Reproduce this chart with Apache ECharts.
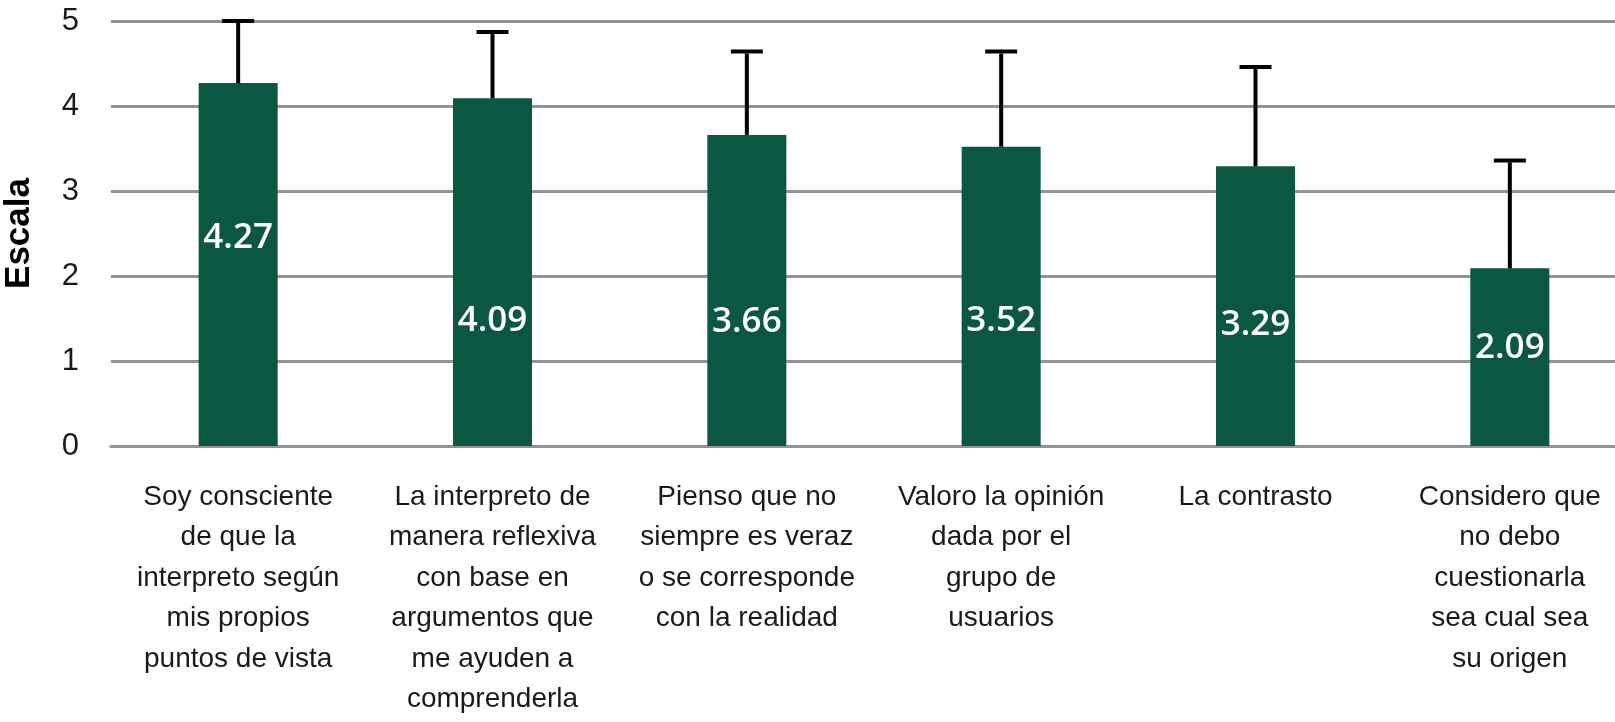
<!DOCTYPE html>
<html>
<head>
<meta charset="utf-8">
<script src="https://cdn.jsdelivr.net/npm/echarts@6/dist/echarts.min.js"></script>
<style>
html,body{margin:0;padding:0;background:#fff;}
#chart{width:1615px;height:722px;}
</style>
</head>
<body>
<div id="chart"></div>
<script>
// ---- data ----
const categories = [
  "Soy consciente\nde que la\ninterpreto según\nmis propios\npuntos de vista",
  "La interpreto de\nmanera reflexiva\ncon base en\nargumentos que\nme ayuden a\ncomprenderla",
  "Pienso que no\nsiempre es veraz\no se corresponde\ncon la realidad",
  "Valoro la opinión\ndada por el\ngrupo de\nusuarios",
  "La contrasto",
  "Considero que\nno debo\ncuestionarla\nsea cual sea\nsu origen"
];
const means = [4.27, 4.09, 3.66, 3.52, 3.29, 2.09];
const errorsUp = [0.73, 0.78, 0.98, 1.12, 1.17, 1.27];
const yTicks = [0, 1, 2, 3, 4, 5];
const yAxisTitle = "Escala";

// ---- styling ----
const labelNudge = [-26, 49, 32, 25, 19, -9];
const barColor = '#0a5841';
const gridColor = '#939393';

const chart = echarts.init(document.getElementById('chart'));
const option = {
  animation: false,
  grid: { left: 111, top: 21, bottom: 276, width: 1526, containLabel: false, outerBoundsMode: 'none' },
  xAxis: {
    type: 'category',
    data: categories,
    axisLine: { show: true, lineStyle: { color: gridColor, width: 3 } },
    axisTick: { show: false },
    axisLabel: {
      interval: 0,
      margin: 31,
      fontFamily: 'Liberation Sans',
      fontSize: 28,
      lineHeight: 40.5,
      color: '#1a1a1a',
      align: 'center',
      verticalAlign: 'top'
    }
  },
  yAxis: {
    type: 'value',
    min: yTicks[0],
    max: yTicks[yTicks.length - 1],
    interval: 1,
    name: yAxisTitle,
    nameLocation: 'middle',
    nameGap: 74,
    nameRotate: 90,
    nameTextStyle: { fontFamily: 'Liberation Sans', fontSize: 35, fontWeight: 'bold', color: '#000' },
    axisLine: { show: false },
    axisTick: { show: false },
    axisLabel: { margin: 32, fontFamily: 'Liberation Sans', fontSize: 31, color: '#1a1a1a' },
    splitLine: { lineStyle: { color: gridColor, width: 3 } }
  },
  series: [
    {
      type: 'bar',
      barWidth: 79,
      itemStyle: { color: barColor },
      data: means.map((v, i) => ({
        value: v,
        label: { offset: [0, labelNudge[i]] }
      })),
      label: {
        show: true,
        position: 'inside',
        color: '#fff',
        fontFamily: 'Open Sans',
        fontWeight: 600,
        fontSize: 35,
        formatter: p => p.value.toFixed(2)
      }
    },
    {
      type: 'custom',
      clip: false,
      z: 5,
      data: means.map((v, i) => [i, v, v + errorsUp[i]]),
      renderItem: function (params, api) {
        const x = api.value(0);
        const p0 = api.coord([x, api.value(1)]);
        const p1 = api.coord([x, api.value(2)]);
        const half = 16;
        const style = { stroke: '#000', lineWidth: 4 };
        return {
          type: 'group',
          children: [
            { type: 'line', shape: { x1: p0[0], y1: p0[1], x2: p1[0], y2: p1[1] + 2 }, style: style },
            { type: 'line', shape: { x1: p1[0] - half, y1: p1[1], x2: p1[0] + half, y2: p1[1] }, style: style }
          ]
        };
      }
    }
  ]
};
chart.setOption(option);
</script>
</body>
</html>
